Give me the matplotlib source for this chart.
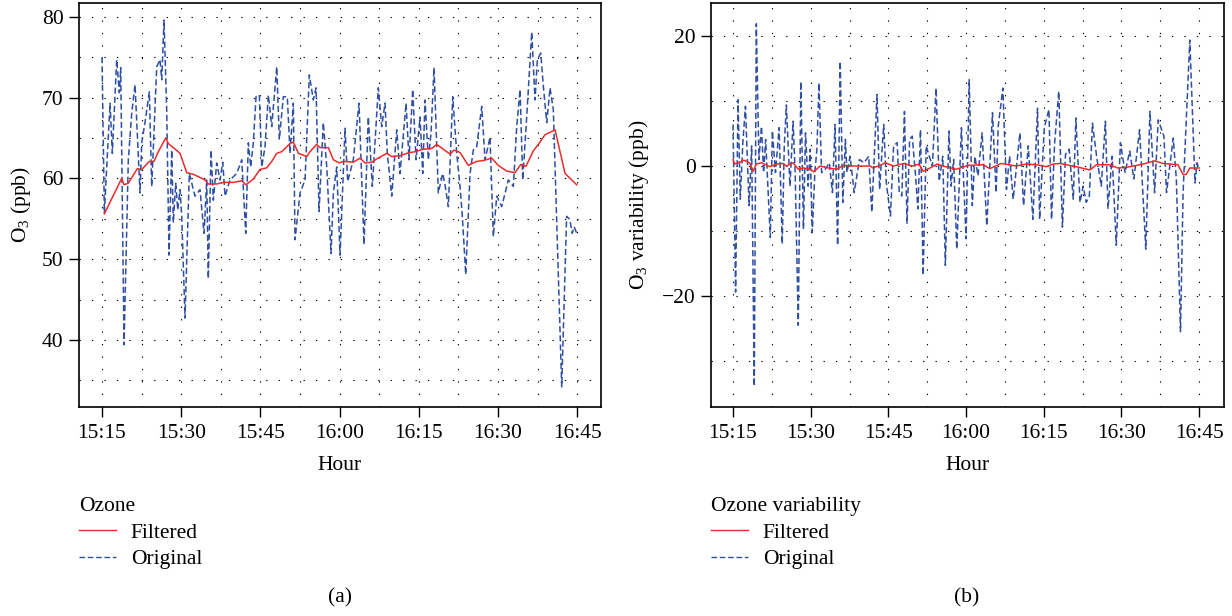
import matplotlib
matplotlib.use("Agg")
import matplotlib.pyplot as plt
from matplotlib.ticker import MultipleLocator, FixedLocator

# ---------------- data ----------------
tick_minutes = [0, 15, 30, 45, 60, 75, 90]
tick_labels = ["15:15", "15:30", "15:45", "16:00", "16:15", "16:30", "16:45"]

# (a) ozone, original (minutes after 15:15, ppb)
oz_orig_t = [0, 0.44, 1.52, 1.95, 2.78, 3.28, 3.54, 4.17, 4.98, 5.63, 6.25, 7.20, 7.52, 8.14, 8.96,
             9.41, 10.36, 10.98, 11.31, 11.74, 12.25, 12.69, 13.20, 13.50, 13.96, 14.34, 14.77, 15.09,
             15.72, 16.53, 17.61, 18.56, 19.32, 19.83, 20.13, 20.64, 21.08, 21.72, 22.35, 22.86, 23.30,
             24.24, 25.51, 26.46, 27.22, 27.71, 28.16, 28.65, 29.17, 29.79, 30.25, 30.87, 31.50, 32.14,
             33.09, 33.58, 34.34, 35.09, 35.61, 36.23, 36.55, 37.50, 38.45, 39.26, 40.02, 40.53, 41.10,
             41.91, 42.56, 43.37, 43.81, 44.45, 45.08, 46.02, 46.53, 47.59, 48.67, 49.62, 50.43, 51.19,
             52.33, 52.97, 53.60, 54.03, 54.87, 55.81, 56.44, 57.58, 58.14, 58.84, 59.47, 60.23, 60.74,
             61.17, 61.80, 62.31, 62.88, 63.69, 64.52, 64.96, 65.59, 66.42, 67.18, 67.80, 68.24, 68.88,
             69.70, 70.32, 70.96, 71.91, 72.54, 73.48, 74.11, 74.75, 75.70, 76.95, 77.90, 78.54, 79.17,
             79.68, 80.43, 81.38, 82.01, 82.44, 83.09, 83.58, 84.22, 84.85, 85.47, 87.06, 87.99, 88.60,
             89.05, 89.42, 89.90]
oz_orig_v = [75.0, 55.7, 69.3, 63.1, 74.7, 70.6, 73.7, 39.4, 62.3, 68.1, 71.6, 58.2, 64.4, 66.9, 70.7,
             59.0, 73.8, 74.7, 72.2, 79.6, 68.5, 50.5, 63.5, 54.5, 59.4, 56.1, 58.6, 55.3,
             42.7, 60.6, 57.8, 58.6, 53.2, 59.8, 47.6, 63.5, 57.3, 61.9, 59.8, 62.0, 57.8,
             59.8, 60.6, 62.3, 53.2, 64.4, 61.4, 64.4, 70.1, 70.3, 61.4, 63.9, 70.3, 66.4,
             73.8, 64.8, 70.1, 70.1, 63.1, 69.3, 52.4, 58.2, 59.8, 72.8, 69.7, 71.2, 55.9,
             66.9, 61.4, 50.7, 58.2, 61.4, 50.5, 66.2, 59.6, 62.3, 69.3, 51.8, 67.6, 59.0,
             71.2, 66.4, 69.3, 63.1, 57.8, 66.0, 60.6, 69.3, 62.3, 71.0, 62.3, 67.6, 60.6,
             69.7, 62.3, 65.6, 73.7, 58.2, 60.6, 59.2, 56.5, 70.1, 63.1, 59.0, 55.3, 48.1,
             60.6, 63.5, 63.9, 68.9, 62.3, 65.1, 52.8, 57.8, 56.5, 59.8, 59.0, 66.4, 71.0,
             59.8, 67.6, 78.1, 69.7, 74.7, 75.5, 71.4, 66.9, 71.2, 68.5, 34.2, 55.3, 54.9,
             53.2, 54.0, 53.2]

# (a) ozone, filtered
oz_filt_t = [0.44, 3.73, 4.17, 4.98, 6.69, 7.52, 8.96, 9.85, 10.66, 12.06, 12.56, 13.50, 14.77, 16.04,
             17.29, 18.56, 19.51, 20.13, 21.72, 22.97, 24.87, 26.46, 27.22, 28.65, 29.92, 31.19, 32.14,
             33.09, 34.03, 35.61, 36.23, 37.18, 38.77, 39.39, 40.66, 41.29, 42.86, 43.81, 44.94, 45.70,
             47.59, 48.86, 49.81, 51.08, 52.03, 53.92, 54.87, 56.44, 57.71, 59.28, 60.85, 62.44, 63.39,
             64.64, 65.91, 66.67, 67.80, 69.37, 70.96, 72.21, 73.80, 75.05, 76.64, 78.22, 79.30, 80.30,
             81.68, 82.63, 83.90, 84.85, 85.80, 87.69, 89.90]
oz_filt_v = [55.6, 60.0, 59.2, 59.4, 61.2, 61.1, 62.1, 62.1, 63.3, 65.0, 64.3, 63.8, 63.1, 60.7,
             60.5, 60.1, 59.8, 59.3, 59.3, 59.5, 59.5, 59.7, 59.2, 59.9, 61.1, 61.3, 62.1,
             63.1, 63.3, 64.3, 64.5, 63.1, 62.7, 63.3, 64.2, 63.8, 63.8, 62.3, 61.9, 62.1,
             62.0, 62.5, 61.9, 62.0, 62.4, 63.1, 62.7, 62.8, 63.1, 63.3, 63.6, 63.7, 64.2,
             63.6, 63.0, 63.5, 63.2, 61.6, 62.1, 62.2, 62.5, 61.6, 60.9, 60.7, 61.7, 61.5,
             63.4, 64.2, 65.4, 65.7, 66.0, 60.6, 59.2]

# (b) ozone variability, original
var_orig_t = [0, 0.5, 0.97, 1.4, 1.9, 2.4, 3.1, 3.6, 4.1, 4.5, 5.0, 5.5, 5.9, 6.3, 7.2, 7.6, 8.2, 8.9,
              9.5, 9.9, 10.3, 11.0, 11.6, 12.0, 12.6, 13.1, 13.6, 14.0, 14.5, 14.9, 15.3, 15.8, 16.2,
              16.6, 17.1, 17.8, 18.6, 19.2, 19.7, 20.2, 20.7, 21.2, 21.7, 22.0, 22.6, 23.4, 24.4, 25.3,
              26.2, 26.8, 27.8, 28.3, 29.1, 29.6, 30.4, 31.0, 31.7, 32.1, 32.6, 33.1, 33.6, 34.1, 34.6,
              35.2, 35.7, 36.2, 36.7, 37.3, 37.9, 38.5, 39.2, 39.8, 40.5, 41.0, 41.7, 42.1, 42.6, 43.2,
              44.1, 45.0, 45.6, 46.2, 46.7, 47.3, 48.1, 49.0, 50.1, 50.8, 51.2, 52.1, 52.8, 53.4, 54.1,
              55.4, 56.1, 57.0, 57.9, 58.8, 59.2, 60.1, 61.0, 61.5, 62.1, 62.9, 63.6, 64.2, 64.9, 65.7,
              66.2, 67.0, 67.6, 68.2, 68.8, 69.4, 70.2, 71.1, 71.9, 72.4, 73.2, 74.0, 74.8, 75.7, 76.6,
              77.4, 78.5, 79.7, 80.5, 81.4, 82.1, 83.2, 83.7, 85.0, 85.6, 86.4, 86.9, 88.2, 89.2, 89.6,
              90.0]
var_orig_v = [6.4, -19.4, 10.2, -5.1, 3.6, 9.2, -6.1, 3.1, -33.9, 21.9, 1.0, 6.1, -1.0, 4.1, -11.0, 5.4,
              -1.0, 5.9, -12.0, 3.1, 9.4, -3.1, 6.9, -1.0, -24.5, 13.0, -9.7, 5.1, -3.1, 2.6, -10.2, -1.0,
              2.6, 12.8, -1.0, -0.5, 0.5, -4.1, 6.4, -12.2, 16.1, -5.6, 4.1, -1.0, 1.5, -4.1, 1.0, 0.5,
              1.5, -7.1, 11.0, -3.6, 6.4, -2.6, -7.7, 3.1, 3.6, -4.1, -4.6, 8.4, -8.9, 4.1, 4.6,
              -1.0, -6.6, 5.6, -16.8, 3.1, 1.5, 0.0, 12.0, -2.3, 1.5, -15.3, 5.4, -3.1, 1.0, -12.8,
              5.9, -11.2, 13.3, -6.1, 1.5, -1.5, 5.1, -9.2, 8.2, -4.1, 6.1, 12.0, -3.6, 1.5, -5.1,
              5.1, -6.1, 3.1, -8.2, 8.9, -8.2, 5.9, 8.7, -8.2, 3.6, 11.5, -9.4, 1.8, 2.6, -5.1,
              7.4, -5.6, -3.1, -5.6, -4.6, 6.6, 1.5, -3.1, 6.9, -6.6, 1.5, -12.2, 3.6, -1.0, 2.3,
              -2.0, 5.6, -12.8, 8.4, -4.1, 7.1, 4.6, -4.1, 4.3, -2.0, -25.5, -4.1, 19.4, -2.6, 0.5,
              -0.5]

# (b) ozone variability, filtered
var_filt_t = [0, 0.3, 1.3, 2.1, 3.2, 3.9, 4.5, 5.5, 7.1, 8.4, 9.7, 10.3, 11.6, 12.6, 13.6, 14.9, 15.6,
              16.8, 18.4, 20.0, 21.3, 23.3, 26.5, 27.0, 28.4, 29.4, 31.0, 33.0, 34.6, 35.9, 36.7, 37.8,
              39.4, 40.5, 43.1, 45.4, 48.3, 49.6, 51.8, 54.7, 56.6, 58.6, 60.5, 61.8, 63.1, 65.7, 67.3,
              68.9, 70.2, 72.7, 74.3, 76.0, 79.2, 81.4, 83.0, 85.9, 86.9, 87.5, 88.2, 90.0]
var_filt_v = [1.0, 0.3, 0.6, 0.9, 0.5, -0.8, 0.3, 0.5, -0.1, 0.3, 0.4, 0.0, 0.5, -0.5, -0.3, -0.5, -0.9,
              0.0, -0.3, -0.5, 0.1, 0.0, 0.0, -0.3, 0.1, 0.5, 0.0, 0.4, 0.0, 0.3, -0.8, -0.4,
              0.3, 0.0, -0.5, 0.1, 0.2, -0.4, 0.4, 0.0, 0.3, 0.2, -0.1, 0.3, 0.4, 0.0, -0.3,
              -0.6, 0.2, 0.2, -0.3, -0.2, 0.3, 0.8, 0.4, 0.2, -1.3, -1.3, -0.3, -0.3]

RED = "#EE2A2A"
BLUE = "#2E4FA3"
FONT = "Liberation Serif"
FS = 15.5

plt.rcParams["font.family"] = [FONT, "DejaVu Serif"]
plt.rcParams["mathtext.fontset"] = "custom"
plt.rcParams["mathtext.rm"] = FONT
plt.rcParams["mathtext.it"] = FONT + ":italic"
plt.rcParams["axes.unicode_minus"] = True

fig = plt.figure(figsize=(12.32, 6.16), dpi=100)
axA = fig.add_axes([79 / 1232, 1 - 407 / 616, 522 / 1232, 404 / 616])
axB = fig.add_axes([711 / 1232, 1 - 407 / 616, 513 / 1232, 404 / 616])


def style(ax, ylim, xlim, ymajor, ygrid, ylabel, label_x):
    ax.set_xlim(*xlim)
    ax.set_ylim(*ylim)
    ax.xaxis.set_major_locator(FixedLocator(tick_minutes))
    ax.set_xticklabels(tick_labels)
    ax.xaxis.set_minor_locator(MultipleLocator(7.5))
    ax.yaxis.set_major_locator(FixedLocator(ymajor))
    ax.yaxis.set_minor_locator(MultipleLocator(ygrid))
    ax.tick_params(which="major", direction="out", length=7, width=1.0, labelsize=FS, pad=5)
    ax.tick_params(axis="y", which="major", pad=4)
    ax.tick_params(which="minor", length=0)
    ax.grid(which="both", axis="both", color="black", linestyle=(0, (1.2, 10)), linewidth=0.8)
    ax.set_axisbelow(True)
    for s in ax.spines.values():
        s.set_linewidth(1.2)
    ax.set_xlabel("Hour", fontsize=FS)
    ax.xaxis.set_label_coords(0.5, -0.122)
    ax.set_ylabel(ylabel, fontsize=FS)
    ax.yaxis.set_label_coords(label_x, 0.5)


axA.plot(oz_filt_t, oz_filt_v, color=RED, lw=1.1, label="Filtered", zorder=3)
axA.plot(oz_orig_t, oz_orig_v, color=BLUE, lw=1.1, linestyle=(0, (4, 2)), label="Original", zorder=2)
style(axA, (31.7, 81.7), (-4.36, 94.5), [40, 50, 60, 70, 80], 5, r"O$_3$ (ppb)", -0.088)

axB.plot(var_filt_t, var_filt_v, color=RED, lw=1.1, label="Filtered", zorder=3)
axB.plot(var_orig_t, var_orig_v, color=BLUE, lw=1.1, linestyle=(0, (4, 2)), label="Original", zorder=2)
style(axB, (-37.1, 25.1), (-4.25, 94.8), [-20, 0, 20], 10, r"O$_3$ variability (ppb)", -0.116)


def add_legend(ax, title, x_px):
    h, l = ax.get_legend_handles_labels()
    leg = fig.legend(h, l, title=title, loc="upper left",
                     bbox_to_anchor=(x_px / 1232, 1 - 497 / 616), frameon=False,
                     fontsize=FS, title_fontsize=FS, handlelength=1.7, handletextpad=0.7,
                     labelspacing=0.3, borderpad=0, borderaxespad=0, alignment="left")
    for line in leg.get_lines():
        line.set_linewidth(1.0)
    return leg


add_legend(axA, "Ozone", 79)
add_legend(axB, "Ozone variability", 711)

fig.text(340 / 1232, 1 - 598 / 616, "(a)", ha="center", va="center", fontsize=FS)
fig.text(967 / 1232, 1 - 598 / 616, "(b)", ha="center", va="center", fontsize=FS)

fig.savefig("out.png", dpi=100)
